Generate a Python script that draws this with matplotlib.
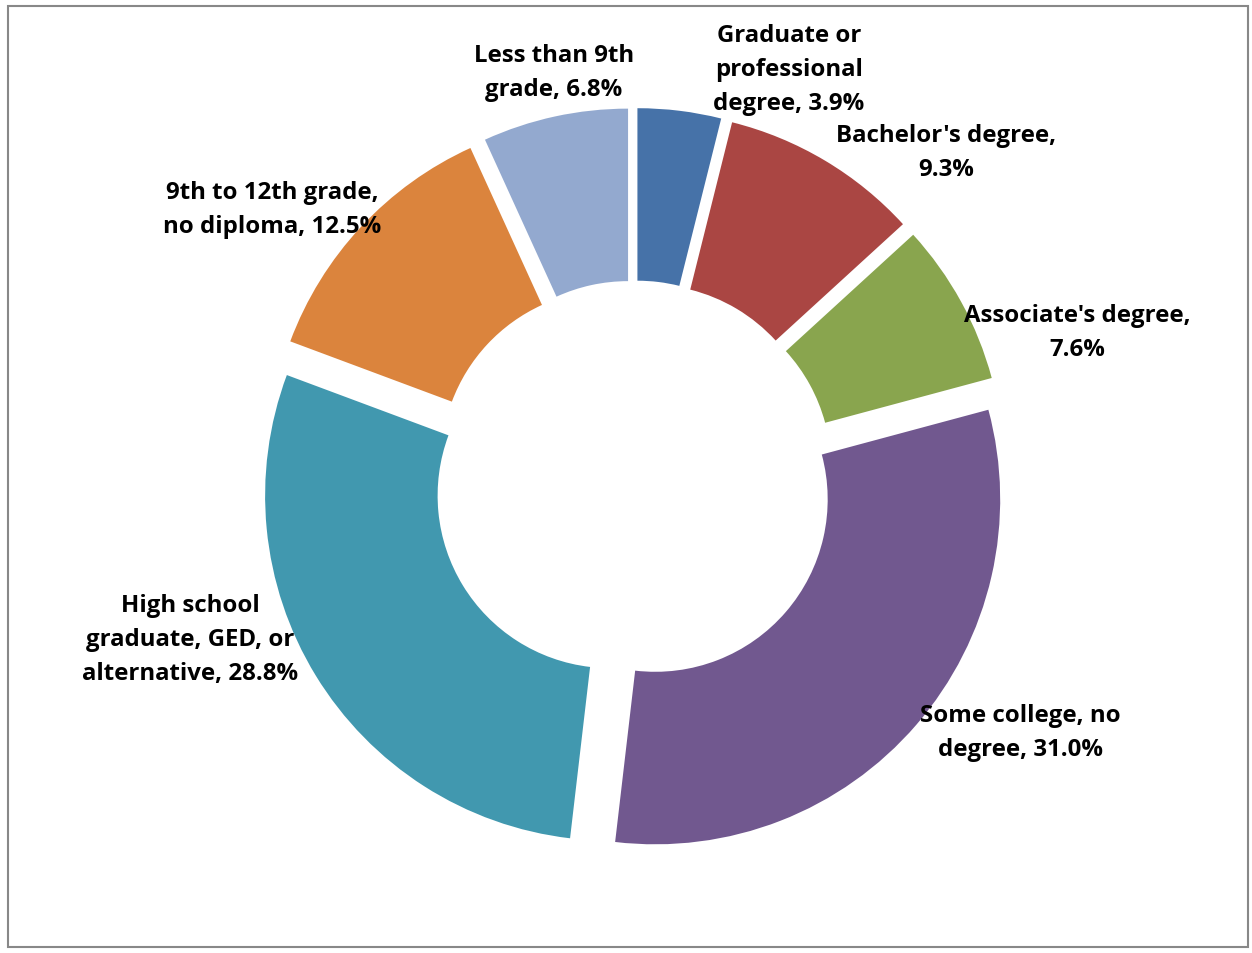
import matplotlib
matplotlib.use("Agg")
import matplotlib.pyplot as plt
from matplotlib.patches import Rectangle

categories = ["Graduate or\nprofessional\ndegree", "Bachelor's degree,\n", "Associate's degree,\n",
              "Some college, no\ndegree", "High school\ngraduate, GED, or\nalternative",
              "9th to 12th grade,\nno diploma", "Less than 9th\ngrade"]
values = [3.9, 9.3, 7.6, 31.0, 28.8, 12.5, 6.8]
colors = ["#4672A8", "#AA4643", "#89A54E", "#71588F", "#4198AF", "#DB843D", "#93A9CF"]

# label positions in pixel coordinates (x from left, y from top)
label_pos = [(789, 70), (946, 153), (1077, 333), (1020, 733), (190, 640), (272, 210), (554, 73)]

W, H = 1252, 954
fig = plt.figure(figsize=(W / 100, H / 100), dpi=100)
ax = fig.add_axes([0, 0, 1, 1])

R = 345
cx, cy = 634, 482
# with inverted y axis, counterclock=True draws visually clockwise
ax.pie(values, colors=colors, radius=R, center=(cx, cy), startangle=-90,
       counterclock=True, explode=[28] * len(values),
       wedgeprops=dict(width=R * 0.5, linewidth=0), frame=True)
ax.set_xlim(0, W)
ax.set_ylim(H, 0)
ax.set_aspect("equal")
ax.axis("off")

for cat, v, (x, y) in zip(categories, values, label_pos):
    if cat.endswith("\n"):
        txt = f"{cat}{v:.1f}%"
    else:
        txt = f"{cat}, {v:.1f}%"
    ax.text(x, y, txt, ha="center", va="center", fontsize=17.3, fontweight="bold",
            family=["Open Sans", "DejaVu Sans"], linespacing=1.55, color="black")

ax.add_patch(Rectangle((7.5, 6.5), 1240, 941.5, fill=False, edgecolor="#888888",
                       linewidth=1.5, zorder=10))

fig.savefig("out.png", dpi=100)
